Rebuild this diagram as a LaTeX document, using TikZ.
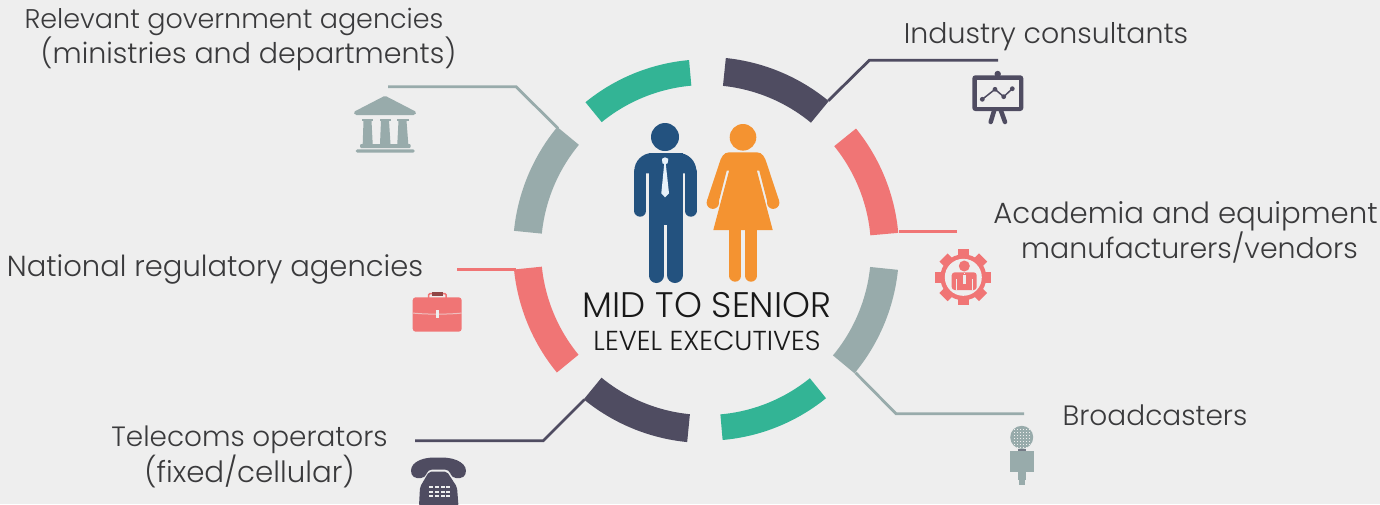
\documentclass[tikz,border=0pt]{standalone}
\usepackage{fontspec}
\setmainfont{Poppins Light}
\definecolor{bgc}{HTML}{EEEEEE}
\definecolor{cgreen}{HTML}{33B495}
\definecolor{cdark}{HTML}{4F4C61}
\definecolor{ccoral}{HTML}{F07575}
\definecolor{cgray}{HTML}{98ABAB}
\definecolor{cblue}{HTML}{23527F}
\definecolor{corange}{HTML}{F49331}
\definecolor{ctext}{HTML}{3A3A3C}
\definecolor{ctie}{HTML}{E6F1FA}
\newcommand{\ringseg}[4]{\fill[#3] (706,-250) ++(#1:#4) arc[start angle=#1,end angle=#2,radius=#4] -- ++(#2:{165-#4}) arc[start angle=#2,end angle=#1,radius=165] -- cycle;}
\newcommand{\fs}[1]{\fontsize{#1}{35}\selectfont}
\tikzset{
  lbl/.style={text=ctext,anchor=base,inner sep=0pt},
  link/.style={line width=2.8pt,line join=miter}
}
\begin{document}
\begin{tikzpicture}[x=1pt,y=1pt]
\useasboundingbox (0,0) rectangle (1380,-504);
\fill[bgc] (0,0) rectangle (1380,-504);
% connector anchors
\coordinate (g1) at (388,-86.7); \coordinate (g2) at (516,-86.7); \coordinate (g3) at (558,-128.3);
\coordinate (i1) at (998,-60.3); \coordinate (i2) at (869.3,-60.3); \coordinate (i3) at (828.3,-100.7);
\coordinate (a1) at (957,-231.7); \coordinate (a2) at (898.5,-231.7);
\coordinate (b1) at (1024,-413.7); \coordinate (b2) at (896,-413.7); \coordinate (b3) at (855.5,-372.7);
\coordinate (n1) at (457,-269.3); \coordinate (n2) at (516,-269.3);
\coordinate (t1) at (415,-440.7); \coordinate (t2) at (543.3,-440.7); \coordinate (t3) at (584.5,-399.5);
\draw[link,cgray] (g1) -- (g2) -- (g3);
\draw[link,cdark] (i1) -- (i2) -- (i3);
\draw[link,ccoral] (a1) -- (a2);
\draw[link,cgray] (b1) -- (b2) -- (b3);
\draw[link,ccoral] (n1) -- (n2);
\draw[link,cdark] (t1) -- (t2) -- (t3);
% ring
\ringseg{95.1}{129.2}{cgreen}{190.7}
\ringseg{84.1}{50.5}{cdark}{193}
\ringseg{39}{5.1}{ccoral}{193}
\ringseg{-5.9}{-39.7}{cgray}{193}
\ringseg{-51}{-85}{cgreen}{190.7}
\ringseg{-95.6}{-129.3}{cdark}{193}
\ringseg{-140.6}{-174.2}{ccoral}{193}
\ringseg{174.3}{140.4}{cgray}{193}
% labels
\node[lbl,font=\fs{27}] (lgova) at (234,-28) {Relevant government agencies};
\node[lbl,font=\fs{28.5}] (lgovb) at (248.5,-63) {(ministries and departments)};
\node[lbl,font=\fs{28.4}] (lind) at (1046,-43) {Industry consultants};
\node[lbl,font=\fs{29.2}] (lacaa) at (1185.5,-223) {Academia and equipment};
\node[lbl,font=\fs{28.4}] (lacab) at (1189.5,-258) {manufacturers/vendors};
\node[lbl,font=\fs{29}] (lnat) at (215,-276) {National regulatory agencies};
\node[lbl,font=\fs{28}] (lbro) at (1155,-425) {Broadcasters};
\node[lbl,font=\fs{27.9}] (ltela) at (249.5,-446) {Telecoms operators};
\node[lbl,font=\fs{29.3}] (ltelb) at (249.5,-482) {(fixed/cellular)};
\node[lbl,text=black!90,font=\fs{35.5}] (lmid) at (707,-317) {MID TO SENIOR};
\node[lbl,text=black!90,font=\fs{27.4}] (llev) at (707,-350) {LEVEL EXECUTIVES};
% man
\fill[cblue] (665,-137) circle[radius=14];
\fill[cblue] (634.3,-173.3) -- (634.3,-171) arc[start angle=180,end angle=90,radius=18] -- (678.3,-153) arc[start angle=90,end angle=0,radius=18] -- (696.3,-173.3) -- cycle;
\fill[cblue] (648.7,-153) rectangle (682.7,-225);
\draw[cblue,line width=12pt,line cap=round] (640.2,-172) -- (640.2,-210.7);
\draw[cblue,line width=12pt,line cap=round] (690.6,-172) -- (690.6,-210.7);
\draw[cblue,line width=15pt,line cap=round] (656.2,-217) -- (656.2,-275.5);
\draw[cblue,line width=15.6pt,line cap=round] (674.9,-217) -- (674.9,-275.2);
\fill[ctie] (665,-157.3) -- (668.3,-158.8) -- (667.6,-163.3) -- (665.8,-164) -- (669,-193.3) -- (665,-197.3) -- (661.3,-193.3) -- (664.2,-164) -- (662.4,-163.3) -- (662,-158.8) -- cycle;
% woman
\fill[corange] (743,-137.3) circle[radius=13.3];
\fill[corange] (729.3,-152.3) -- (756.7,-152.3) .. controls (762.5,-152.3) and (765,-157.5) .. (766.7,-163.3) -- (779,-200.5) -- (768,-204.5) -- (759.3,-170.7) -- (726.7,-170.7) -- (718,-204.5) -- (707,-200.5) -- (719.3,-163.3) .. controls (721,-157.5) and (723.5,-152.3) .. (729.3,-152.3) -- cycle;
\fill[corange] (773.2,-202.7) circle[radius=6.2];
\fill[corange] (712.8,-202.7) circle[radius=6.2];
\fill[corange] (729.3,-170) -- (756.7,-170) -- (772.7,-230) -- (713.3,-230) -- cycle;
\draw[corange,line width=12pt,line cap=round] (735.2,-228) -- (735.2,-275.7);
\draw[corange,line width=12pt,line cap=round] (751,-228) -- (751,-275.7);
% bank
\fill[cgray,rounded corners=1.5pt] (385,-95.7) -- (416.5,-112) -- (415,-115) -- (355,-115) -- (353.5,-112) -- cycle;
\fill[cgray] (362,-118.7) rectangle (373,-120.7);
\fill[cgray] (379.5,-118.7) rectangle (391,-120.7);
\fill[cgray] (397,-118.7) rectangle (408.5,-120.7);
\fill[cgray] (363.5,-120.7) -- (371.5,-120.7) -- (372.7,-144) -- (362.7,-144) -- cycle;
\fill[cgray] (381,-120.7) -- (389,-120.7) -- (390.5,-144) -- (380,-144) -- cycle;
\fill[cgray] (398.5,-120.7) -- (406.5,-120.7) -- (408.3,-144) -- (397.3,-144) -- cycle;
\fill[cgray,rounded corners=1pt] (360,-144) rectangle (410.7,-148);
\fill[cgray,rounded corners=1.5pt] (355.7,-149.3) rectangle (414.7,-152.7);
% chart
\fill[cdark] (997.7,-74) circle[radius=3.2];
\fill[cdark,rounded corners=3pt] (972.3,-75.3) rectangle (1023.3,-111);
\fill[bgc] (977.3,-80) rectangle (1018.7,-106.7);
\draw[cdark,line width=4.5pt,line cap=round] (994.3,-110) -- (990.7,-122);
\draw[cdark,line width=4.5pt,line cap=round] (1000.7,-110) -- (1005,-122);
\draw[cdark,line width=1.5pt] (982.3,-99.3) -- (995,-89.3) -- (1003.7,-96.7) -- (1012.3,-88.7);
\foreach \p in {(982.3,-99.3),(995,-89.3),(1003.7,-96.7),(1012.3,-88.7)} \fill[cdark] \p circle[radius=2.4];
% gear
\foreach \a in {0,45,...,135} \fill[ccoral,rotate around={\a:(963.3,-277.3)}] (957.5,-305.3) rectangle (969.1,-249.3);
\fill[ccoral] (963.3,-277.3) circle[radius=23];
\fill[bgc] (963.3,-277.3) circle[radius=18.5];
\fill[ccoral] (964.3,-266) circle[radius=5.5];
\fill[ccoral,rounded corners=3pt] (951.7,-290) -- (951.7,-272.3) -- (976.7,-272.3) -- (976.7,-290) -- cycle;
\fill[bgc] (963.2,-275) rectangle (965.6,-284);
\fill[bgc] (963.6,-272.5) rectangle (965.2,-274);
\draw[bgc,line width=.6pt] (956,-279) -- (956,-290) (972.5,-279) -- (972.5,-290);
% briefcase
\draw[ccoral,line width=1.5pt,rounded corners=1.5pt] (428.5,-298) -- (428.5,-293.5) -- (446.2,-293.5) -- (446.2,-298);
\fill[black!25!ccoral!80!black] (431.7,-292.3) rectangle (443.3,-295.7);
\fill[ccoral,rounded corners=3pt] (412.7,-297.3) rectangle (461.7,-331.7);
\draw[bgc!60!ccoral,line width=1pt] (412.7,-313) .. controls (425,-314.5) and (450,-314.5) .. (461.7,-313);
\fill[bgc] (435.7,-310) rectangle (439.3,-318.3);
% phone
\fill[cdark,rounded corners=4pt] (413,-478) .. controls (408,-464) and (420,-457.5) .. (438,-457.5) .. controls (456,-457.5) and (469,-464) .. (464,-478) -- (452,-478) -- (449,-469.5) -- (428,-469.5) -- (425,-478) -- cycle;
\fill[cdark,rounded corners=2pt] (429,-471.7) -- (447,-471.7) -- (457,-487) -- (458.5,-506) -- (419,-506) -- (420,-487) -- cycle;
\foreach \y in {-486,-490.5,-495} \foreach \x in {429,434.8,440.6,446} \fill[bgc] (\x,\y) rectangle +(4.2,-2);
% microphone
\fill[cgray] (1021.7,-437.3) circle[radius=11.5];
\foreach \y in {-429,-432,-435,-438,-441,-444,-447} \foreach \x in {1014,1017,1020,1023,1026,1029} \fill[bgc] (\x,\y) rectangle +(1.4,-1.2);
\fill[cdark!50!cgray] (1018,-449) rectangle (1026,-451);
\fill[cgray] (1010,-451) rectangle (1034,-471.7);
\fill[cgray] (1018,-471.7) rectangle (1026,-480);
\fill[cgray] (1019,-480) rectangle (1025,-485);
\end{tikzpicture}
\end{document}
